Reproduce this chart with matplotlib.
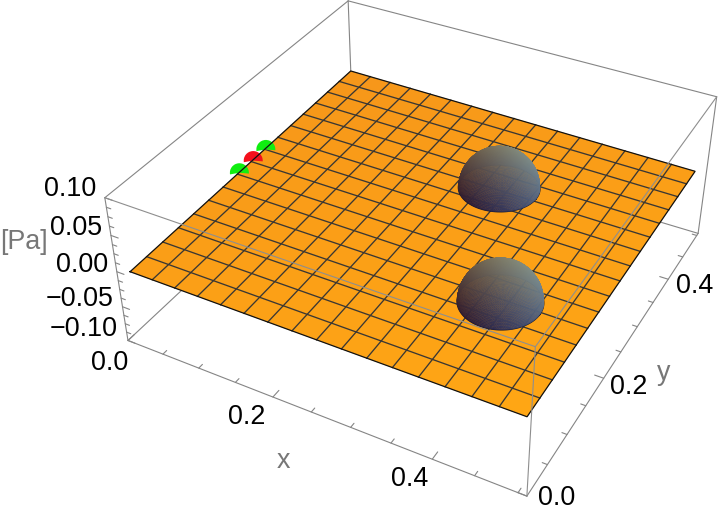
#!/usr/bin/env python3
import numpy as np
import matplotlib
matplotlib.use('Agg')
import matplotlib.pyplot as plt
from matplotlib.collections import PolyCollection
from matplotlib.patches import Wedge

plt.rcParams['font.family'] = ['Liberation Sans', 'DejaVu Sans']

# axis ranges of the box
X_MAX = 0.51
Y_MAX = 0.505
Z_MIN = -0.1
Z_MAX = 0.1

# ticks
x_ticks = [0.0, 0.05, 0.1, 0.15, 0.2, 0.25, 0.3, 0.35, 0.4, 0.45, 0.5]
y_ticks = [0.0, 0.05, 0.1, 0.15, 0.2, 0.25, 0.3, 0.35, 0.4, 0.45, 0.5]
z_ticks = list(np.arange(-0.1, 0.1001, 0.0125))
x_major = [0.0, 0.2, 0.4]
y_major = [0.0, 0.2, 0.4]
z_major = [-0.1, -0.05, 0.0, 0.05, 0.1]
x_labels = ['0.0', '0.2', '0.4']
y_labels = ['0.0', '0.2', '0.4']
z_labels = ['\u22120.10', '\u22120.05', '0.00', '0.05', '0.10']

# plate corners (x, y), it is a bit smaller than the box
plate_x = [0.013, 0.502, 0.500, 0.005]
plate_y = [0.007, 0.008, 0.490, 0.497]
MESH_CELLS = 16

# the two domes
dome_x = [0.40, 0.304]
dome_y = [0.155, 0.346]
dome_radius = [0.047, 0.049]
dome_height = [0.047, 0.050]

# small markers on the plate edge
marker_x = [0.010, 0.010, 0.010]
marker_y = [0.225, 0.255, 0.283]
marker_color = ['#10EE10', '#F4101C', '#10EE10']

# camera fit: box corners and where they land in the picture
corner_data = [(0, 0, Z_MIN), (0, 0, Z_MAX), (X_MAX, 0, Z_MIN), (X_MAX, 0, Z_MAX),
               (X_MAX, Y_MAX, Z_MIN), (X_MAX, Y_MAX, Z_MAX), (0, Y_MAX, Z_MAX)]
corner_px = [(128, 341), (105, 197), (527, 496), (535, 347),
             (698, 233), (717, 97), (348, 1)]

SCALE = np.array([2.0, 2.0, 5.0])


def fit_camera():
    rows = []
    for d, p in zip(corner_data, corner_px):
        X = np.append(np.array(d) * SCALE, 1.0)
        u, v = p[0] / 500.0, p[1] / 500.0
        rows.append(np.concatenate([X, np.zeros(4), -u * X]))
        rows.append(np.concatenate([np.zeros(4), X, -v * X]))
    _, _, vt = np.linalg.svd(np.array(rows))
    P = vt[-1].reshape(3, 4)
    if P[2] @ np.array([1, 0, 0, 1.0]) < 0:
        P = -P
    return P


P = fit_camera()


def project(x, y, z):
    x, y, z = np.broadcast_arrays(np.asarray(x, float), np.asarray(y, float), np.asarray(z, float))
    X = np.stack([x * SCALE[0], y * SCALE[1], z * SCALE[2], np.ones_like(x)], axis=-1)
    h = X @ P.T
    return h[..., 0] / h[..., 2] * 500, h[..., 1] / h[..., 2] * 500, h[..., 2]


fig = plt.figure(figsize=(7.2, 5.2), dpi=100)
ax = fig.add_axes([0, 0, 1, 1])
ax.set_xlim(0, 720)
ax.set_ylim(520, 0)
ax.axis('off')

BOX = '#858585'
BOX_LW = 0.8


def line3d(a, b, color=BOX, lw=BOX_LW, zorder=1, alpha=1.0):
    px, py, _ = project([a[0], b[0]], [a[1], b[1]], [a[2], b[2]])
    ax.plot(px, py, color=color, lw=lw, zorder=zorder, alpha=alpha, solid_capstyle='round')


# box edges behind the plate
for a, b in [((0, 0, Z_MIN), (0, Y_MAX, Z_MIN)),
             ((0, Y_MAX, Z_MIN), (X_MAX, Y_MAX, Z_MIN)),
             ((0, Y_MAX, Z_MIN), (0, Y_MAX, Z_MAX)),
             ((0, 0, Z_MAX), (0, Y_MAX, Z_MAX)),
             ((0, Y_MAX, Z_MAX), (X_MAX, Y_MAX, Z_MAX)),
             ((X_MAX, Y_MAX, Z_MIN), (X_MAX, Y_MAX, Z_MAX)),
             ((0, 0, Z_MIN), (0, 0, Z_MAX)),
             ((0, 0, Z_MIN), (X_MAX, 0, Z_MIN)),
             ((X_MAX, 0, Z_MIN), (X_MAX, Y_MAX, Z_MIN))]:
    line3d(a, b)

# ticks
for t in x_ticks:
    n = 0.012 if t in x_major else 0.007
    line3d((t, 0, Z_MIN), (t, n, Z_MIN))
for t in y_ticks:
    n = 0.011 if t in y_major else 0.006
    line3d((X_MAX, t, Z_MIN), (X_MAX - n, t, Z_MIN))
for t in z_ticks:
    n = 0.010 if min(abs(t - m) for m in z_major) < 1e-6 else 0.006
    line3d((0, 0, t), (n, 0, t))


# plate
def plate_point(s, t):
    x = (1-s)*(1-t)*plate_x[0] + s*(1-t)*plate_x[1] + s*t*plate_x[2] + (1-s)*t*plate_x[3]
    y = (1-s)*(1-t)*plate_y[0] + s*(1-t)*plate_y[1] + s*t*plate_y[2] + (1-s)*t*plate_y[3]
    return x, y


far_col = np.array([246, 150, 26]) / 255
near_col = np.array([255, 166, 20]) / 255
quads = []
cols = []
edges = np.linspace(0, 1, MESH_CELLS + 1)
for i in range(MESH_CELLS):
    for j in range(MESH_CELLS):
        xs, ys = plate_point(np.array([edges[i], edges[i+1], edges[i+1], edges[i]]),
                             np.array([edges[j], edges[j], edges[j+1], edges[j+1]]))
        px, py, _ = project(xs, ys, 0.0)
        quads.append(np.column_stack([px, py]))
        f = 0.5 * (edges[i] + 1 - edges[j])
        cols.append(far_col + (near_col - far_col) * f)
ax.add_collection(PolyCollection(quads, facecolors=cols, edgecolors='face', linewidths=0.3, zorder=2))

for e in edges[1:-1]:
    xs, ys = plate_point(np.array([e, e]), np.array([0.0, 1.0]))
    px, py, _ = project(xs, ys, 0.0)
    ax.plot(px, py, color='#3a3733', lw=0.95, zorder=3)
    xs, ys = plate_point(np.array([0.0, 1.0]), np.array([e, e]))
    px, py, _ = project(xs, ys, 0.0)
    ax.plot(px, py, color='#3a3733', lw=0.95, zorder=3)

ex, ey, _ = project(plate_x + plate_x[:1], plate_y + plate_y[:1], 0.0)
ax.plot(ex, ey, color='#111111', lw=0.9, zorder=5.5, solid_joinstyle='miter')

# dome shading, plain per channel fit: base + right * r + up * u
cam_right = np.array([0.90, 0.42, 0.0])
cam_up = np.array([-0.259, 0.554, 0.788])
shade_base = np.array([0.31, 0.305, 0.365])
shade_right = np.array([0.075, 0.156, 0.18])
shade_up = np.array([0.19, 0.19, 0.05])

for cx, cy, r, h in zip(dome_x, dome_y, dome_radius, dome_height):
    th = np.linspace(0, 2 * np.pi, 121)
    ph = np.linspace(0, np.pi / 2, 41)
    # dark rim where the dome sits on the plate
    rx, ry, _ = project(cx + r * np.cos(th), cy + r * np.sin(th), 0.0)
    ax.plot(rx, ry, color='#17172a', lw=1.0, zorder=3.5)
    polys, colors, depth = [], [], []
    for i in range(len(th) - 1):
        for j in range(len(ph) - 1):
            tt = np.array([th[i], th[i+1], th[i+1], th[i]])
            pp = np.array([ph[j], ph[j], ph[j+1], ph[j+1]])
            nx, ny, nz = np.cos(tt) * np.cos(pp), np.sin(tt) * np.cos(pp), np.sin(pp)
            px, py, w = project(cx + r * nx, cy + r * ny, h * nz)
            n = np.array([nx.mean(), ny.mean(), nz.mean()])
            n = n / np.linalg.norm(n)
            c = shade_base + shade_right * (n @ cam_right) + shade_up * (n @ cam_up)
            polys.append(np.column_stack([px, py]))
            colors.append(np.clip(c, 0, 1))
            depth.append(w.mean())
    order = np.argsort(depth)[::-1]
    ax.add_collection(PolyCollection([polys[k] for k in order],
                                     facecolors=[colors[k] for k in order],
                                     edgecolors='face', linewidths=0.25, zorder=4))

# small half round markers
for mx, my, mc in zip(marker_x, marker_y, marker_color):
    px, py, _ = project(mx, my, 0.0)
    ax.add_patch(Wedge((float(px), float(py)), 9.5, -190, 5, facecolor=mc, edgecolor='none', zorder=5))

# box edges in front of the plate
for a, b in [((0, 0, Z_MAX), (X_MAX, 0, Z_MAX)),
             ((X_MAX, 0, Z_MAX), (X_MAX, Y_MAX, Z_MAX)),
             ((X_MAX, 0, Z_MIN), (X_MAX, 0, Z_MAX))]:
    line3d(a, b, color='#8e8e8e', zorder=6)

# tick labels, offset in pixels from the axis
FS = 19.4
x_off = [(-18, 23), (-26, 20), (-23, 20)]
y_off = [(30, 2), (25, 9), (26, 7)]
z_off = [(-44, -11), (-43, -8), (-35, -7), (-35, -7), (-35, -9)]
for t, s, o in zip(x_major, x_labels, x_off):
    px, py, _ = project(t, 0, Z_MIN)
    ax.text(px + o[0], py + o[1], s, fontsize=FS, ha='center', va='center', color='black', zorder=7)
for t, s, o in zip(y_major, y_labels, y_off):
    px, py, _ = project(X_MAX, t, Z_MIN)
    ax.text(px + o[0], py + o[1], s, fontsize=FS, ha='center', va='center', color='black', zorder=7)
for t, s, o in zip(z_major, z_labels, z_off):
    px, py, _ = project(0, 0, t)
    ax.text(px + o[0], py + o[1], s, fontsize=FS, ha='center', va='center', color='black', zorder=7)

ax.text(24, 242, '[Pa]', fontsize=FS, ha='center', va='center', color='#777777', zorder=7)
ax.text(283, 461, 'x', fontsize=FS, ha='center', va='center', color='#777777', zorder=7)
ax.text(664, 373, 'y', fontsize=FS, ha='center', va='center', color='#777777', zorder=7)

fig.savefig('out.png', dpi=100)
